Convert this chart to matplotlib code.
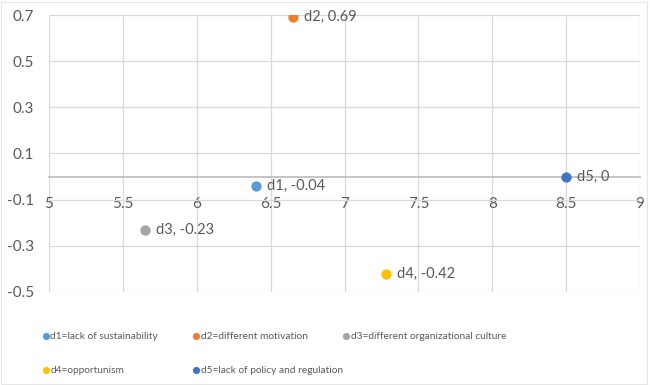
import matplotlib
matplotlib.use("Agg")
from matplotlib import pyplot as plt
from matplotlib.ticker import MultipleLocator, FuncFormatter

plt.rcParams['font.family'] = ['Lato', 'DejaVu Sans']

# factor positions on the map
names = ["d1", "d2", "d3", "d4", "d5"]
x_vals = [6.4, 6.65, 5.65, 7.28, 8.5]
y_vals = [-0.04, 0.69, -0.23, -0.42, 0.0]
legend_texts = [
    "d1=lack of sustainability",
    "d2=different motivation",
    "d3=different organizational culture",
    "d4=opportunism",
    "d5=lack of policy and regulation",
]
colors = ["#5B9BD5", "#ED7D31", "#A5A5A5", "#FFC000", "#4472C4"]

text_gray = "#595959"
grid_gray = "#D9D9D9"

fig = plt.figure(figsize=(6.5, 3.85), dpi=100)
ax = fig.add_axes([0.0754, 0.2416, 0.9092, 0.7194])

handles = []
for name, x, y, c, lab in zip(names, x_vals, y_vals, colors, legend_texts):
    h = ax.scatter(x, y, s=55, color=c, zorder=4, label=lab, linewidths=0)
    handles.append(h)
    ax.annotate(f"{name}, {y:g}", (x, y), xytext=(8, 0), textcoords="offset points",
                va="center", ha="left", fontsize=10.5, color=text_gray, zorder=5)

ax.set_xlim(5, 9)
ax.set_ylim(-0.5, 0.7)
ax.xaxis.set_major_locator(MultipleLocator(0.5))
ax.set_yticks([-0.5, -0.3, -0.1, 0.1, 0.3, 0.5, 0.7])
ax.xaxis.set_major_formatter(FuncFormatter(lambda v, p: f"{v:g}"))
ax.yaxis.set_major_formatter(FuncFormatter(lambda v, p: f"{v:g}"))

ax.grid(True, color=grid_gray, linewidth=0.9, zorder=0)
ax.set_axisbelow(True)
for side in ("top", "right", "left"):
    ax.spines[side].set_visible(False)
ax.spines["bottom"].set_position(("data", 0))
ax.spines["bottom"].set_color("#BFBFBF")
ax.spines["bottom"].set_linewidth(1.3)

ax.tick_params(axis="both", length=0, labelsize=11, labelcolor=text_gray)
ax.tick_params(axis="x", pad=15)
ax.tick_params(axis="y", pad=11)

# legend laid out in fixed-width columns, row by row
col_x = [0.065, 0.296, 0.527]
groups = [[0, 3], [1, 4], [2]]
for cx, idx in zip(col_x, groups):
    fig.legend([handles[i] for i in idx], [legend_texts[i] for i in idx],
               loc="upper left", bbox_to_anchor=(cx, 0.138), frameon=False,
               fontsize=7.3, labelcolor=text_gray, handletextpad=0.1,
               markerscale=0.7, labelspacing=2.45, borderaxespad=0,
               borderpad=0, handlelength=0.7)

fig.patches.append(plt.Rectangle((0.002, 0.002), 0.994, 0.994, transform=fig.transFigure,
                                 fill=False, edgecolor="#E6E6E6", linewidth=0.8))

fig.savefig("out.png", dpi=100)
